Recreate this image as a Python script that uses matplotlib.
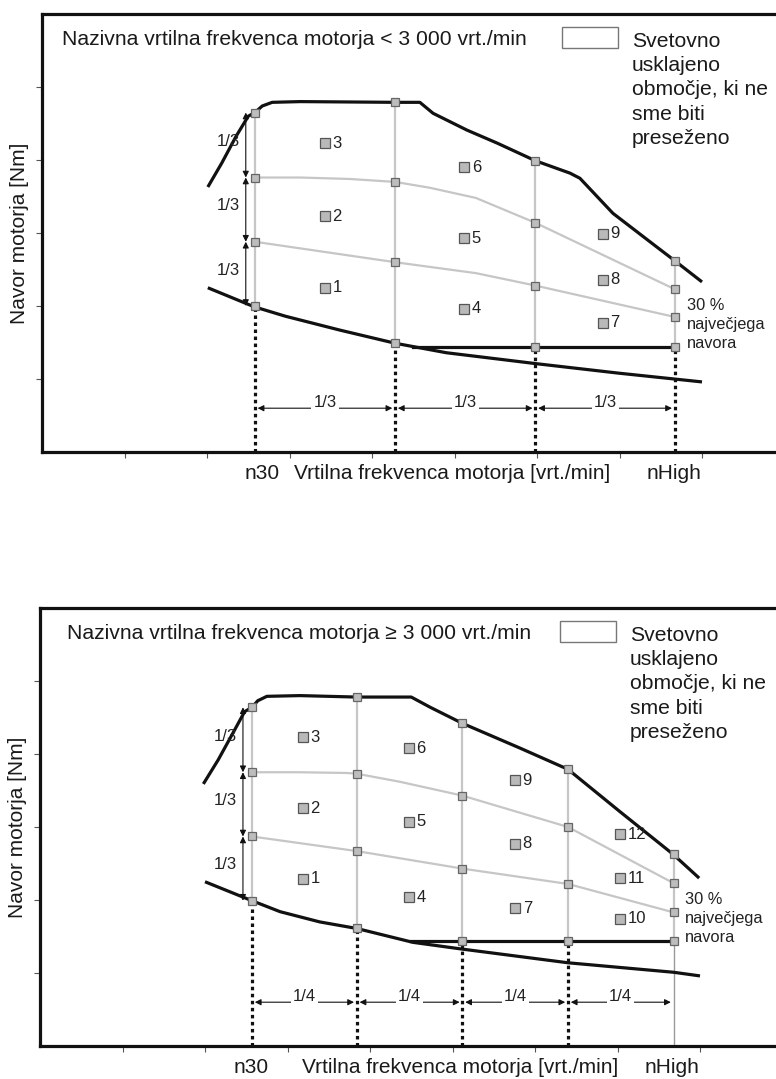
import matplotlib.pyplot as plt
import numpy as np

plt.rcParams['font.family'] = ['Liberation Sans', 'DejaVu Sans']

# ---------------- upper chart: rated speed < 3000 rpm ----------------
title_a = 'Nazivna vrtilna frekvenca motorja < 3 000 vrt./min'
cols_a = [2.58, 4.28, 5.98, 7.67]
# per column: bottom, lower, upper, top (torque)
grid_a = [[2.00, 2.88, 3.76, 4.65],
          [1.50, 2.60, 3.70, 4.79],
          [1.44, 2.28, 3.14, 3.99],
          [1.44, 1.85, 2.23, 2.62]]
max_x_a = [2.01, 2.18, 2.35, 2.50, 2.58, 2.67, 2.79, 3.13, 4.28, 4.58, 4.74, 5.15,
           5.52, 5.98, 6.40, 6.52, 6.92, 7.45, 7.67, 8.00]
max_y_a = [3.63, 3.96, 4.32, 4.60, 4.65, 4.74, 4.79, 4.80, 4.79, 4.79, 4.64, 4.41,
           4.23, 3.99, 3.82, 3.75, 3.27, 2.81, 2.62, 2.33]
min_x_a = [2.01, 2.57, 2.95, 3.61, 4.28, 4.90, 5.99, 6.99, 8.00]
min_y_a = [2.25, 1.99, 1.86, 1.67, 1.49, 1.36, 1.21, 1.08, 0.96]
up_x_a = [2.58, 3.13, 3.73, 4.28, 4.70, 5.26, 5.98, 7.67]
up_y_a = [3.76, 3.76, 3.74, 3.70, 3.62, 3.48, 3.14, 2.23]
lo_x_a = [2.58, 4.28, 5.26, 5.98, 7.67]
lo_y_a = [2.88, 2.60, 2.45, 2.28, 1.85]
floor_x_a = [4.50, 7.67]
cell_x_a = [3.43, 3.43, 3.43, 5.12, 5.12, 5.12, 6.80, 6.80, 6.80]
cell_y_a = [2.25, 3.23, 4.23, 1.96, 2.93, 3.90, 1.77, 2.36, 2.99]
cell_lab_a = ['1', '2', '3', '4', '5', '6', '7', '8', '9']
frac_a = '1/3'

# ---------------- lower chart: rated speed >= 3000 rpm ----------------
title_b = 'Nazivna vrtilna frekvenca motorja \u2265 3 000 vrt./min'
cols_b = [2.57, 3.84, 5.12, 6.40, 7.68]
grid_b = [[1.99, 2.87, 3.75, 4.64],
          [1.61, 2.67, 3.73, 4.78],
          [1.44, 2.43, 3.43, 4.42],
          [1.44, 2.22, 3.00, 3.79],
          [1.44, 1.83, 2.23, 2.63]]
max_x_b = [1.98, 2.16, 2.34, 2.48, 2.57, 2.64, 2.75, 3.15, 3.84, 4.50, 4.73, 5.12,
           5.82, 6.40, 7.03, 7.67, 7.99]
max_y_b = [3.59, 3.92, 4.29, 4.58, 4.64, 4.73, 4.79, 4.80, 4.78, 4.78, 4.64, 4.42,
           4.08, 3.79, 3.21, 2.63, 2.30]
min_x_b = [2.00, 2.57, 2.91, 3.39, 3.84, 4.52, 5.10, 6.40, 7.68, 8.00]
min_y_b = [2.25, 1.99, 1.84, 1.70, 1.61, 1.42, 1.33, 1.14, 1.01, 0.96]
up_x_b = [2.57, 3.15, 3.72, 3.84, 4.36, 5.12, 6.40, 7.68]
up_y_b = [3.75, 3.75, 3.74, 3.73, 3.62, 3.43, 3.00, 2.23]
lo_x_b = [2.57, 3.84, 5.12, 6.40, 7.68]
lo_y_b = [2.87, 2.67, 2.43, 2.22, 1.83]
floor_x_b = [4.50, 7.68]
cell_x_b = [3.19, 3.19, 3.19, 4.47, 4.47, 4.47, 5.76, 5.76, 5.76, 7.03, 7.03, 7.03]
cell_y_b = [2.29, 3.26, 4.23, 2.04, 3.07, 4.08, 1.89, 2.77, 3.64, 1.74, 2.30, 2.90]
cell_lab_b = ['1', '2', '3', '4', '5', '6', '7', '8', '9', '10', '11', '12']
frac_b = '1/4'

legend_txt = 'Svetovno\nusklajeno\nobmočje, ki ne\nsme biti\npreseženo'
pct_txt = ['30 %', 'največjega', 'navora']
xlab = 'Vrtilna frekvenca motorja [vrt./min]'
ylab = 'Navor motorja [Nm]'

BLACK = '#111111'
GRAY = '#c6c6c6'
TXT = '#1a1a1a'


def panel(ax, title, cols, grid, max_x, max_y, min_x, min_y, up_x, up_y, lo_x, lo_y,
          floor_x, cell_x, cell_y, cell_lab, frac, solid_last, xlab_pos, title_x):
    ax.set_xlim(0, ax.get_position().width * 776 / 82.5)
    ax.set_ylim(0, 6)
    for s in ['left', 'bottom', 'top']:
        ax.spines[s].set_linewidth(2.3)
        ax.spines[s].set_color(BLACK)
    ax.spines['right'].set_visible(False)
    ax.set_xticks(range(1, 9))
    ax.set_yticks(range(1, 6))
    ax.tick_params(direction='out', length=4, width=0.8, colors='#555555',
                   labelbottom=False, labelleft=False)

    # column lines
    for i, c in enumerate(cols):
        ax.plot([c, c], [grid[i][0], grid[i][3]], color=GRAY, lw=1.6, zorder=2)
        if solid_last and i == len(cols) - 1:
            ax.plot([c, c], [0, grid[i][0]], color='#999999', lw=1.0, zorder=2)
        else:
            ax.plot([c, c], [0, grid[i][0]], color=BLACK, lw=2.3,
                    linestyle=(0, (1.1, 1.1)), dash_capstyle='butt', zorder=2)
    ax.plot(up_x, up_y, color=GRAY, lw=1.6, zorder=2)
    ax.plot(lo_x, lo_y, color=GRAY, lw=1.6, zorder=2)

    # limit curves
    ax.plot(max_x, max_y, color=BLACK, lw=2.3, zorder=3, solid_capstyle='butt')
    ax.plot(min_x, min_y, color=BLACK, lw=2.3, zorder=3, solid_capstyle='butt')
    ax.plot(floor_x, [grid[-1][0]] * 2, color=BLACK, lw=2.3, zorder=3)

    # grid points
    for i, c in enumerate(cols):
        ax.plot([c] * 4, grid[i], 's', ms=5.5, mfc='#bdbdbd', mec='#666666',
                mew=0.9, zorder=5)

    # mode points
    ax.plot(cell_x, cell_y, 's', ms=7, mfc='#b9b9b9', mec='#555555', mew=0.9, zorder=5)
    for x, y, t in zip(cell_x, cell_y, cell_lab):
        ax.text(x + 0.09, y, t, fontsize=12, va='center', ha='left',
                color='#222222', zorder=6)

    # vertical 1/3 arrows
    xa = cols[0] - 0.11
    for i in range(3):
        ax.annotate('', xy=(xa, grid[0][i + 1]), xytext=(xa, grid[0][i]),
                    arrowprops=dict(arrowstyle='<|-|>', lw=0.8, color=BLACK,
                                    shrinkA=0, shrinkB=0, mutation_scale=9), zorder=4)
        ax.text(cols[0] - 0.32, (grid[0][i] + grid[0][i + 1]) / 2 + 0.05, '1/3',
                fontsize=12, ha='center', va='center', color='#222222')

    # horizontal fraction arrows
    yh = 0.60
    for i in range(len(cols) - 1):
        ax.annotate('', xy=(cols[i + 1], yh), xytext=(cols[i], yh),
                    arrowprops=dict(arrowstyle='<|-|>', lw=0.8, color=BLACK,
                                    shrinkA=2, shrinkB=2, mutation_scale=9), zorder=4)
        ax.text((cols[i] + cols[i + 1]) / 2, yh + 0.08, frac, fontsize=12,
                ha='center', va='center', color='#222222',
                bbox=dict(fc='white', ec='none', pad=1.5), zorder=5)

    # texts
    ax.text(title_x, 5.65, title, fontsize=15.2, ha='left', va='center', color=TXT)
    ax.add_patch(plt.Rectangle((6.30, 5.53), 0.68, 0.29, fc='white', ec='#777777',
                               lw=1.0, zorder=5))
    ax.text(7.15, 4.96, legend_txt, fontsize=15.2, ha='left', va='center',
            linespacing=1.36, color=TXT)
    for j, t in enumerate(pct_txt):
        ax.text(7.82, 2.00 - 0.26 * j, t, fontsize=11.8, ha='left', va='center',
                color='#222222')

    ax.text(xlab_pos[0], -0.29, 'n30', fontsize=15, ha='center', va='center',
            color=TXT, clip_on=False)
    ax.text(xlab_pos[1], -0.29, xlab, fontsize=15, ha='center', va='center',
            color=TXT, clip_on=False)
    ax.text(xlab_pos[2], -0.29, 'nHigh', fontsize=15, ha='center', va='center',
            color=TXT, clip_on=False)
    ax.set_ylabel(ylab, fontsize=15, labelpad=5, color=TXT)


fig = plt.figure(figsize=(7.76, 10.79), dpi=100)
ax1 = fig.add_axes([42 / 776, (1079 - 452) / 1079, (776 - 42) / 776, 438 / 1079])
ax2 = fig.add_axes([40 / 776, (1079 - 1046) / 1079, (776 - 40) / 776, 438 / 1079])

panel(ax1, title_a, cols_a, grid_a, max_x_a, max_y_a, min_x_a, min_y_a, up_x_a, up_y_a,
      lo_x_a, lo_y_a, floor_x_a, cell_x_a, cell_y_a, cell_lab_a, frac_a, False,
      (2.67, 4.97, 7.66), 0.24)
panel(ax2, title_b, cols_b, grid_b, max_x_b, max_y_b, min_x_b, min_y_b, up_x_b, up_y_b,
      lo_x_b, lo_y_b, floor_x_b, cell_x_b, cell_y_b, cell_lab_b, frac_b, True,
      (2.56, 5.09, 7.66), 0.33)

fig.savefig('out.png', dpi=100)
